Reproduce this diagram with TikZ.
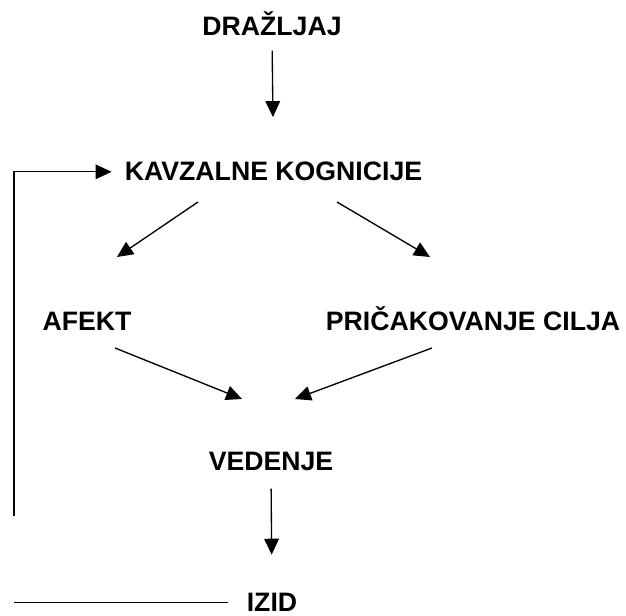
\documentclass[tikz,border=0pt]{standalone}
\usepackage{fontspec}
\setmainfont{Liberation Sans}
\usetikzlibrary{arrows.meta}

\begin{document}
\begin{tikzpicture}[x=0.75pt, y=-0.75pt,
		lbl/.style={font=\fontsize{20}{24}\selectfont\bfseries, inner sep=0pt, anchor=base},
		arr/.style={-{Triangle[length=12pt, width=11pt]}, line width=1pt}]
			\useasboundingbox (0, 0) rectangle (626, 616);
			
			% Stages
			\node[lbl] (drazljaj) at (272, 36) {DRAŽLJAJ};
			\node[lbl] (kavzalne) at (273.5, 181) {KAVZALNE KOGNICIJE};
			\node[lbl] (afekt) at (87, 331) {AFEKT};
			\node[lbl] (pricakovanje) at (473, 331) {PRIČAKOVANJE CILJA};
			\node[lbl] (vedenje) at (271, 471) {VEDENJE};
			\node[lbl] (izid) at (272, 612) {IZID};
			
			% Free ends of the slanted arrows
			\coordinate (ka-out) at (198, 202);
			\coordinate (ka-in) at (117, 257);
			\coordinate (kp-out) at (337, 202);
			\coordinate (kp-in) at (430, 257);
			\coordinate (av-out) at (115, 348);
			\coordinate (av-in) at (242, 399);
			\coordinate (pv-out) at (432, 348);
			\coordinate (pv-in) at (295, 399);
			\coordinate (fb-low) at (14, 516);
			
			% Top (y=36)
			\draw[arr, shorten <=10.5pt, shorten >=33.75pt] (drazljaj.south) -- (kavzalne.north);
			
			% Upper (y=181)
			\draw[arr] (ka-out) -- (ka-in);
			\draw[arr] (kp-out) -- (kp-in);
			
			% Middle (y=331)
			\draw[arr] (av-out) -- (av-in);
			\draw[arr] (pv-out) -- (pv-in);
			
			% Lower (y=471)
			\draw[arr, shorten <=12.75pt, shorten >=29pt] (vedenje.south) -- (izid.north);
			
			% Feedback loop
			\draw[arr, shorten >=9.75pt] (fb-low) |- (kavzalne.west);
			
			% Bottom (y=612)
			\draw[line width=1pt, shorten >=14pt] (izid.west -| fb-low) -- (izid.west);
			
		\end{tikzpicture}
\end{document}
